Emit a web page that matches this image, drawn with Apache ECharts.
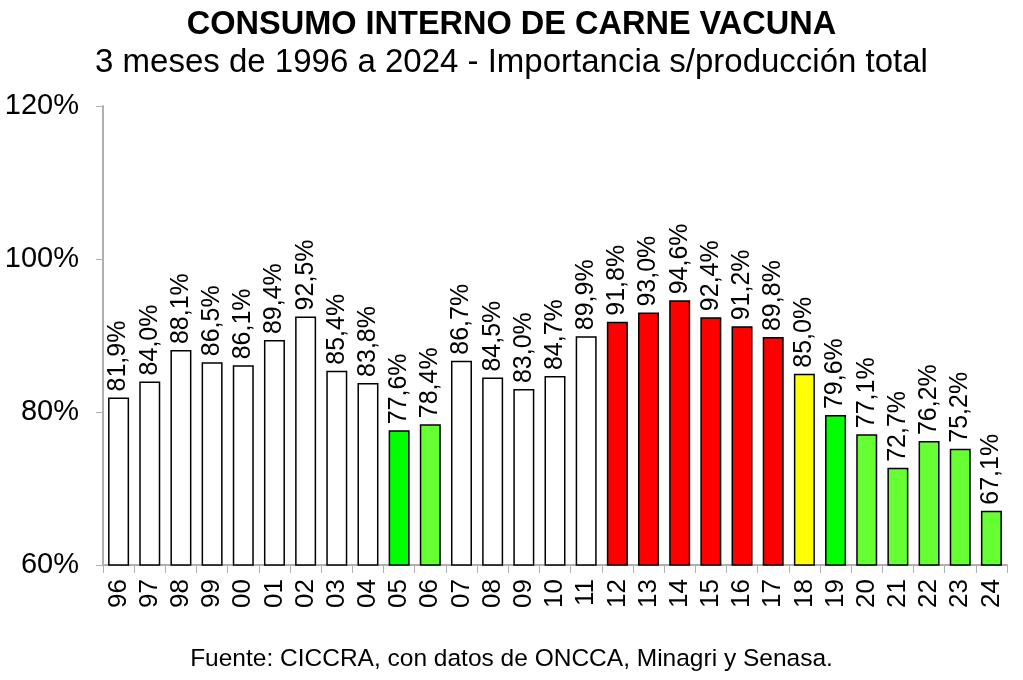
<!DOCTYPE html>
<html><head><meta charset="utf-8">
<script src="https://cdn.jsdelivr.net/npm/echarts@6/dist/echarts.min.js"></script>
<style>html,body{margin:0;padding:0;background:#fff}#c{width:1023px;height:680px}</style>
</head><body><div id="c"></div>
<script>
const categories = ['96','97','98','99','00','01','02','03','04','05','06','07','08','09','10','11','12','13','14','15','16','17','18','19','20','21','22','23','24'];
const values = [81.9,84.0,88.1,86.5,86.1,89.4,92.5,85.4,83.8,77.6,78.4,86.7,84.5,83.0,84.7,89.9,91.8,93.0,94.6,92.4,91.2,89.8,85.0,79.6,77.1,72.7,76.2,75.2,67.1];
const barColors = ['#ffffff','#ffffff','#ffffff','#ffffff','#ffffff','#ffffff','#ffffff','#ffffff','#ffffff','#00ff00','#66ff33','#ffffff','#ffffff','#ffffff','#ffffff','#ffffff','#ff0000','#ff0000','#ff0000','#ff0000','#ff0000','#ff0000','#ffff00','#00ff00','#66ff33','#66ff33','#66ff33','#66ff33','#66ff33'];
const yTicks = [60, 80, 100, 120];
const titleText = 'CONSUMO INTERNO DE CARNE VACUNA';
const subtitleText = '3 meses de 1996 a 2024 - Importancia s/producción total';
const sourceText = 'Fuente: CICCRA, con datos de ONCCA, Minagri y Senasa.';

const F = 'Liberation Sans, Arial, sans-serif';
const chart = echarts.init(document.getElementById('c'));
chart.setOption({
  animation: false,
  backgroundColor: '#fff',
  title: [
    {text: titleText, left: 'center', top: 4, textStyle: {fontFamily: F, fontSize: 32.5, fontWeight: 'bold', color: '#000'}},
    {text: subtitleText, left: 'center', top: 41, textStyle: {fontFamily: F, fontSize: 33, fontWeight: 'normal', color: '#000'}},
    {text: sourceText, left: 'center', top: 642, textStyle: {fontFamily: F, fontSize: 24.5, fontWeight: 'normal', color: '#000'}}
  ],
  grid: {left: 103, right: 16, top: 106, bottom: 115, containLabel: false},
  xAxis: {
    type: 'category', data: categories,
    axisLine: {lineStyle: {color: '#b0b0b0', width: 2}},
    axisTick: {show: true, alignWithLabel: false, length: 8, lineStyle: {color: '#b0b0b0', width: 1}},
    axisLabel: {rotate: 90, margin: 14, fontFamily: F, fontSize: 26, color: '#000', interval: 0}
  },
  yAxis: {
    type: 'value', min: yTicks[0], max: yTicks[yTicks.length - 1], interval: 20,
    axisLine: {show: true, lineStyle: {color: '#b0b0b0', width: 2}},
    axisTick: {show: true, length: 7, lineStyle: {color: '#b0b0b0', width: 1}},
    splitLine: {show: false},
    axisLabel: {formatter: '{value}%', margin: 24, fontFamily: F, fontSize: 29, color: '#000'}
  },
  series: [{
    type: 'bar',
    data: values.map((v, i) => ({value: v, itemStyle: {color: barColors[i]}})),
    barWidth: 21,
    itemStyle: {borderColor: '#000', borderWidth: 1.5},
    label: {
      show: true, position: 'top', rotate: 90, align: 'left', verticalAlign: 'middle', distance: 6,
      fontFamily: F, fontSize: 25, color: '#000',
      formatter: p => p.value.toFixed(1).replace('.', ',') + '%'
    }
  }]
});
</script></body></html>
